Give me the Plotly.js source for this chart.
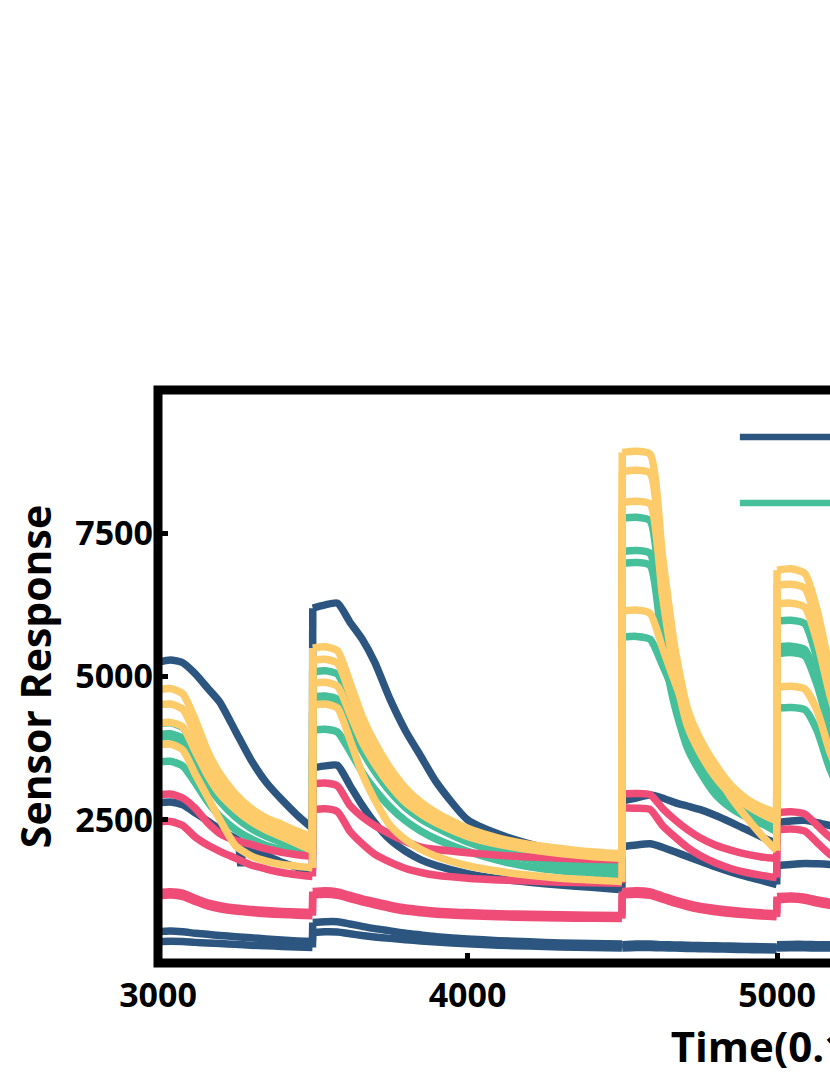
<!DOCTYPE html>
<html>
<head>
<meta charset="utf-8">
<script src="https://cdn.plot.ly/plotly-3.0.1.min.js"></script>
<style>
html, body { margin: 0; padding: 0; background: #ffffff; overflow: hidden; }
#chart { width: 1460px; height: 1075px; }
</style>
</head>
<body>
<div id="chart"></div>
<script>
// ---- data ----
const time = [
  3000, 3040, 3080, 3120, 3160, 3200, 3250, 3300, 3350, 3400, 3450, 3499,
  3500, 3540, 3580, 3620, 3660, 3700, 3750, 3800, 3850, 3900, 4000, 4100, 4200, 4300, 4400, 4499,
  4500, 4545, 4590, 4630, 4670, 4710, 4750, 4800, 4850, 4900, 4950, 4999,
  5000, 5045, 5090, 5130, 5170, 5220
];
// gas pulses start at these times (indices into `time` where each exposure begins)
const pulseStarts = [3000, 3500, 4500, 5000];

const sensorTypes = ["TGS2600", "TGS2602", "TGS2610", "TGS2620"];

// TGS2600 (blue)
const blue1 = [5250, 5290, 5240, 5050, 4800, 4550, 4050, 3550, 3150, 2850, 2580, 2350,
  6193, 6250, 6280, 5950, 5650, 5250, 4600, 4050, 3600, 3150, 2500, 2250, 2080, 1960, 1880, 1830,
  2831, 2880, 2930, 2880, 2800, 2740, 2680, 2580, 2460, 2330, 2200, 2080,
  2450, 2480, 2490, 2450, 2400, 2340];
const blue2 = [2796, 2810, 2760, 2620, 2480, 2330, 2170, 2000, 1880, 1760, 1670, 1600,
  3406, 3440, 3450, 3100, 2750, 2450, 2150, 1950, 1800, 1700, 1560, 1470, 1410, 1360, 1320, 1280,
  2029, 2060, 2080, 2020, 1940, 1860, 1780, 1680, 1590, 1510, 1440, 1370,
  1700, 1720, 1735, 1730, 1720, 1700];
const blue2GlitchTime = [3250, 3260, 3268, 3276, 3300];
const blue2Glitch = [2170, 2135, 1690, 2080, 2000];
const blue3 = [549, 560, 545, 520, 500, 480, 460, 440, 420, 400, 385, 375,
  706, 720, 720, 680, 640, 600, 560, 520, 490, 460, 420, 390, 370, 350, 340, 330,
  320, 330, 330, 320, 315, 310, 305, 300, 295, 290, 285, 280,
  320, 325, 325, 320, 318, 315];
const blue4 = [375, 380, 375, 360, 350, 340, 325, 310, 300, 290, 280, 270,
  532, 545, 540, 510, 480, 455, 430, 405, 385, 365, 335, 310, 295, 280, 270, 260,
  260, 270, 270, 265, 260, 255, 250, 245, 240, 235, 230, 225,
  260, 265, 265, 262, 260, 258];

// TGS2602 (green)
const green1 = [3990, 4000, 3920, 3600, 3200, 2900, 2620, 2420, 2280, 2180, 2100, 2050,
  5078, 5100, 5040, 4600, 4100, 3700, 3300, 2980, 2750, 2570, 2300, 2100, 1960, 1860, 1790, 1740,
  7762, 7780, 7720, 6100, 4900, 4050, 3600, 3150, 2880, 2700, 2580, 2500,
  5967, 5980, 5920, 5300, 4450, 3600];
const green2 = [3940, 3950, 3870, 3520, 3120, 2820, 2550, 2350, 2210, 2110, 2030, 1980,
  4643, 4660, 4600, 4200, 3750, 3400, 3030, 2750, 2550, 2400, 2150, 1970, 1840, 1750, 1690, 1650,
  7187, 7200, 7150, 5700, 4600, 3850, 3430, 3020, 2770, 2600, 2480, 2400,
  5514, 5530, 5470, 4950, 4150, 3400];
const green3 = [3510, 3520, 3440, 3150, 2820, 2560, 2330, 2170, 2050, 1980, 1930, 1900,
  4068, 4080, 4030, 3700, 3330, 3030, 2720, 2480, 2300, 2160, 1950, 1790, 1680, 1610, 1570, 1540,
  5688, 5700, 5650, 5200, 4700, 4250, 3850, 3400, 3000, 2700, 2450, 2290,
  4451, 4460, 4420, 4050, 3400, 2800];
const green4 = [4180, 4190, 4110, 3700, 3270, 2940, 2660, 2450, 2300, 2190, 2070, 1970,
  4600, 4620, 4560, 4150, 3700, 3350, 2990, 2710, 2510, 2360, 2110, 1930, 1810, 1720, 1660, 1610,
  6977, 6990, 6940, 5550, 4480, 3760, 3350, 2950, 2710, 2550, 2430, 2350,
  5400, 5420, 5360, 4850, 4080, 3330];

// TGS2610 (pink)
const pink1 = [2935, 2950, 2880, 2700, 2450, 2260, 2140, 2070, 1990, 1930, 1890, 1860,
  3127, 3140, 3090, 2750, 2550, 2400, 2250, 2120, 2020, 1980, 1925, 1880, 1850, 1830, 1810, 1800,
  2953, 2960, 2940, 2700, 2500, 2330, 2190, 2060, 1970, 1900, 1850, 1820,
  2626, 2640, 2600, 2400, 2200, 2000];
const pink2 = [2465, 2470, 2400, 2200, 2060, 1950, 1830, 1710, 1640, 1580, 1540, 1510,
  2674, 2690, 2640, 2300, 2080, 1900, 1760, 1650, 1580, 1530, 1480, 1450, 1430, 1410, 1400, 1390,
  2709, 2700, 2680, 2400, 2200, 2020, 1880, 1750, 1650, 1580, 1530, 1490,
  2330, 2340, 2300, 2100, 1900, 1750];
const pink3 = [1230, 1245, 1220, 1130, 1050, 1000, 960, 935, 915, 900, 890, 880,
  1246, 1260, 1240, 1180, 1120, 1070, 1010, 960, 930, 905, 880, 860, 850, 840, 835, 830,
  1246, 1260, 1240, 1170, 1100, 1040, 990, 950, 920, 895, 875, 860,
  1160, 1170, 1150, 1100, 1060, 1020];
const pink4 = [1170, 1185, 1160, 1075, 995, 945, 905, 880, 860, 845, 835, 825,
  1190, 1200, 1180, 1125, 1065, 1015, 955, 905, 875, 850, 825, 805, 795, 785, 780, 775,
  1190, 1200, 1180, 1115, 1045, 985, 935, 895, 865, 840, 820, 805,
  1105, 1115, 1095, 1045, 1005, 965];

// TGS2620 (yellow)
const yellow1 = [4765, 4790, 4700, 4250, 3700, 3300, 2950, 2700, 2530, 2420, 2300, 2200,
  5496, 5520, 5450, 4900, 4300, 3850, 3400, 3050, 2800, 2620, 2350, 2180, 2070, 2000, 1940, 1900,
  8911, 8930, 8880, 7100, 5500, 4450, 3930, 3470, 3110, 2870, 2720, 2620,
  6855, 6880, 6800, 6150, 5150, 4100];
const yellow2 = [4504, 4520, 4430, 4000, 3500, 3130, 2830, 2600, 2440, 2330, 2200, 2100,
  5287, 5300, 5230, 4700, 4130, 3720, 3300, 2970, 2730, 2560, 2300, 2140, 2040, 1970, 1910, 1870,
  8580, 8600, 8550, 6800, 5300, 4300, 3800, 3360, 3030, 2820, 2670, 2570,
  6594, 6610, 6540, 5900, 4950, 3950];
const yellow3 = [4190, 4200, 4120, 3700, 3280, 2950, 2680, 2470, 2320, 2200, 2080, 1960,
  4887, 4900, 4830, 4350, 3850, 3480, 3100, 2800, 2600, 2440, 2210, 2070, 1980, 1910, 1860, 1830,
  8040, 8060, 8010, 6400, 5050, 4150, 3680, 3250, 2950, 2760, 2600, 2480,
  6263, 6280, 6210, 5600, 4700, 3780];
const yellow4 = [3807, 3820, 3720, 3300, 2900, 2500, 2050, 1870, 1780, 1720, 1690, 1660,
  4504, 4520, 4450, 3900, 3300, 2850, 2400, 2150, 1980, 1860, 1700, 1600, 1530, 1480, 1450, 1420,
  6141, 6160, 6100, 5500, 4900, 4350, 3900, 3350, 2900, 2550, 2230, 1960,
  4817, 4830, 4780, 4400, 3700, 3050];

const xTicks = [3000, 4000, 5000, 6000, 7000];
const yTicks = [2500, 5000, 7500];

// ---- styles ----
const colors = ["#2c5680", "#46bf9b", "#ef4d77", "#fdcb6a"];
const groups = [
  [blue1, blue2, blue3, blue4],
  [green1, green2, green3, green4],
  [pink1, pink2, pink3, pink4],
  [yellow1, yellow2, yellow3, yellow4]
];
const LW = 7.5;

// split the common time axis into pulse segments
const segIdx = pulseStarts.map(t => time.indexOf(t));
const segBounds = segIdx.map((s, k) => [s, k + 1 < segIdx.length ? segIdx[k + 1] : time.length]);

const traces = [];
groups.forEach((g, gi) => {
  g.forEach((ys, si) => {
    const nm = sensorTypes[gi] + " #" + (si + 1);
    // smooth curve for each pulse segment
    segBounds.forEach(([a, b]) => {
      traces.push({
        type: "scatter", mode: "lines",
        x: time.slice(a, b), y: ys.slice(a, b),
        name: nm, legendgroup: sensorTypes[gi], showlegend: false,
        line: { color: colors[gi], width: LW, shape: "spline", smoothing: 0.6 }
      });
    });
    // sharp vertical steps where a new pulse starts
    const jx = [], jy = [];
    segIdx.slice(1).forEach(s => {
      jx.push(time[s - 1], time[s], null);
      jy.push(ys[s - 1], ys[s], null);
    });
    traces.push({
      type: "scatter", mode: "lines", x: jx, y: jy,
      name: nm, legendgroup: sensorTypes[gi], showlegend: false,
      line: { color: colors[gi], width: LW }
    });
    if (gi === 0 && si === 1) {
      traces.push({
        type: "scatter", mode: "lines",
        x: blue2GlitchTime, y: blue2Glitch,
        name: nm, legendgroup: sensorTypes[0], showlegend: false,
        line: { color: colors[0], width: LW }
      });
    }
  });
});

const font = "Open Sans, Noto Sans, sans-serif";

// legend drawn as long line samples (2 columns)
const legendCols = [0.470, 0.745];
const legendRows = [0.918, 0.803];
const shapes = [{
  type: "rect", xref: "paper", yref: "paper", x0: 0, x1: 1, y0: 0, y1: 1,
  line: { color: "#000000", width: 9 }, layer: "above"
}];
const annotations = [];
sensorTypes.forEach((name, i) => {
  const c = Math.floor(i / 2), r = i % 2;
  shapes.push({
    type: "line", xref: "paper", yref: "paper",
    x0: legendCols[c], x1: legendCols[c] + 0.09, y0: legendRows[r], y1: legendRows[r],
    line: { color: colors[i], width: 6.5 }, layer: "above"
  });
  annotations.push({
    xref: "paper", yref: "paper", x: legendCols[c] + 0.102, y: legendRows[r],
    xanchor: "left", yanchor: "middle", showarrow: false, text: "<b>" + name + "</b>",
    font: { family: font, size: 30, color: "#000000" }
  });
});

const layout = {
  width: 1460, height: 1075,
  margin: { l: 158, r: 64, t: 390, b: 112 },
  paper_bgcolor: "#ffffff", plot_bgcolor: "#ffffff",
  showlegend: false,
  font: { family: font, color: "#000000" },
  xaxis: {
    range: [3000, 7000], tickvals: xTicks, ticktext: xTicks.map(String),
    ticks: "inside", ticklen: 10, tickwidth: 5, tickcolor: "#000000",
    showline: false, showgrid: false, zeroline: false,
    tickfont: { family: font, size: 34, color: "#000000", weight: "bold" },
    ticklabelstandoff: 9,
    title: { text: "<b>Time(0.1s)</b>", font: { family: font, size: 42, color: "#000000" }, standoff: 8 }
  },
  yaxis: {
    range: [0, 10000], tickvals: yTicks, ticktext: yTicks.map(String),
    ticks: "inside", ticklen: 10, tickwidth: 5, tickcolor: "#000000",
    showline: false, showgrid: false, zeroline: false,
    tickfont: { family: font, size: 34, color: "#000000", weight: "bold" },
    ticklabelstandoff: 4,
    title: { text: "<b>Sensor Response</b>", font: { family: font, size: 41, color: "#000000" }, standoff: 10 }
  },
  shapes: shapes,
  annotations: annotations
};

Plotly.newPlot("chart", traces, layout, { displayModeBar: false, staticPlot: true });
</script>
</body>
</html>
